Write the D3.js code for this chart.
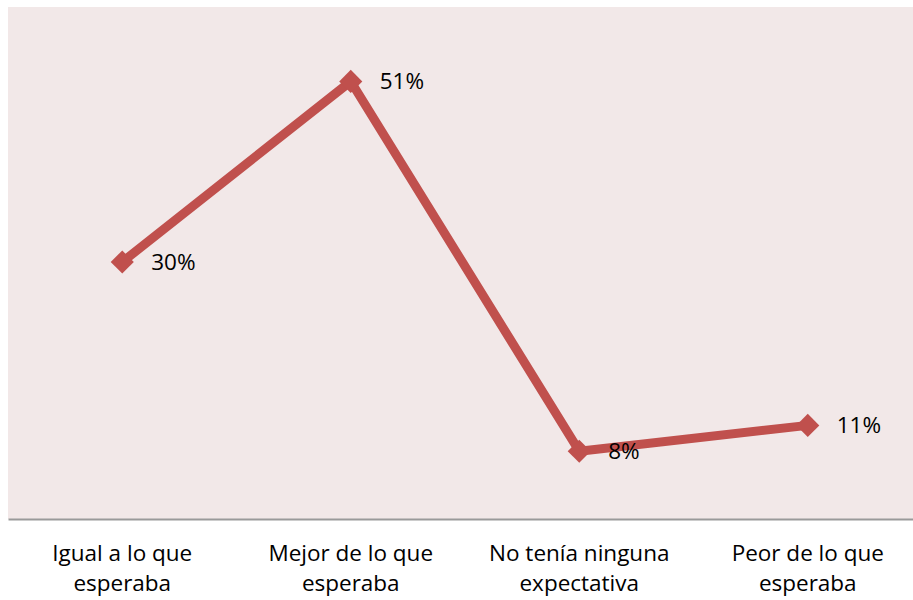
<!DOCTYPE html>
<html>
<head>
<meta charset="utf-8">
<script src="https://cdn.jsdelivr.net/npm/d3@7"></script>
<style>
  body { margin: 0; background: #fff; }
  text { font-family: "Open Sans", Lato, sans-serif; fill: #000; }
</style>
</head>
<body>
<div id="chart"></div>
<script>
// chart data
var categories = [
    ['Igual a lo que', 'esperaba'],
    ['Mejor de lo que', 'esperaba'],
    ['No tenía ninguna', 'expectativa'],
    ['Peor de lo que', 'esperaba']
]
var values = [30, 51, 8, 11]
var valueLabels = ['30%', '51%', '8%', '11%']

var width = 913, height = 600
var lineColor = '#c0504d'

var svg = d3.select('#chart')
    .append('svg')
    .attr('width', width)
    .attr('height', height)

// plot area
var plotTop = 7, plotBottom = 519, plotLeft = 8, plotRight = 922

svg.append('rect')
    .attr('x', plotLeft)
    .attr('y', plotTop)
    .attr('width', plotRight - plotLeft)
    .attr('height', plotBottom - plotTop)
    .attr('fill', '#f2e8e8')

var x = d3.scalePoint()
    .domain(d3.range(categories.length))
    .range([plotLeft, plotRight])
    .padding(0.5)

var y = d3.scaleLinear()
    .domain([0, 59.3])
    .range([520, 10])

// x axis
var xAxis = d3.axisBottom(x).tickSize(0).tickFormat('')
var gx = svg.append('g')
    .attr('transform', 'translate(0,' + plotBottom + ')')
    .call(xAxis)
gx.select('.domain').attr('stroke', '#9a9a9a').attr('stroke-width', 2)

categories.forEach(function(lines, i) {
    var t = svg.append('text')
        .attr('x', x(i))
        .attr('y', 561)
        .attr('text-anchor', 'middle')
        .style('font-size', '22.5px')
    lines.forEach(function(l, j) {
        t.append('tspan')
            .attr('x', x(i))
            .attr('dy', j === 0 ? 0 : 30)
            .text(l)
    })
})

// the line
var line = d3.line()
    .x(function(d, i) { return x(i) })
    .y(function(d) { return y(d) })

svg.append('path')
    .datum(values)
    .attr('d', line)
    .attr('fill', 'none')
    .attr('stroke', lineColor)
    .attr('stroke-width', 9)
    .attr('stroke-linejoin', 'round')

// diamond markers
var diamond = d3.symbol().type(d3.symbolDiamond2).size(340)
svg.selectAll('path.marker')
    .data(values)
    .enter()
    .append('path')
    .attr('class', 'marker')
    .attr('d', diamond)
    .attr('transform', function(d, i) { return 'translate(' + x(i) + ',' + y(d) + ')' })
    .attr('fill', lineColor)

// data labels
svg.selectAll('text.label')
    .data(values)
    .enter()
    .append('text')
    .attr('class', 'label')
    .attr('x', function(d, i) { return x(i) + 29 })
    .attr('y', function(d) { return y(d) + 8 })
    .style('font-size', '22.5px')
    .text(function(d, i) { return valueLabels[i] })
</script>
</body>
</html>
